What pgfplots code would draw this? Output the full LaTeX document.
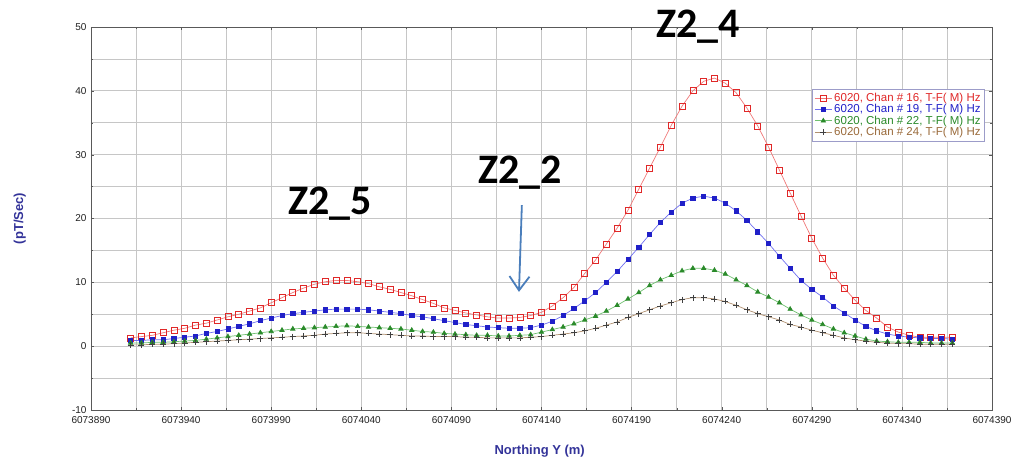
\documentclass[border=0pt]{standalone}
\usepackage{pgfplots}
\pgfplotsset{compat=1.18}
\usepackage{pgfplotstable}
\usepackage{fontspec}
\setmainfont{Liberation Sans}
\newfontfamily\calib{Carlito}
\usetikzlibrary{arrows.meta}

\definecolor{cRed}{HTML}{E02828}
\definecolor{lRed}{HTML}{F07878}
\definecolor{cBlue}{HTML}{2020C8}
\definecolor{lBlue}{HTML}{7070F0}
\definecolor{cGreen}{HTML}{2A8A2A}
\definecolor{lGreen}{HTML}{70C070}
\definecolor{cBrown}{HTML}{9A6A3A}
\definecolor{lBrown}{HTML}{B09070}
\definecolor{labBlue}{HTML}{333399}
\definecolor{arrBlue}{HTML}{4A7EBB}

% x = Northing - 6073890 (m); r/b/g/k = Chan 16/19/22/24 (pT/Sec)
\pgfplotstableread{
x   r    b    g    k
22  1.3  0.9  0.5  0.2
28  1.5  0.9  0.5  0.2
34  1.7  1.0  0.6  0.3
40  2.1  1.0  0.6  0.3
46  2.5  1.2  0.7  0.4
52  2.8  1.4  0.8  0.5
58  3.3  1.6  0.9  0.6
64  3.6  2.0  1.1  0.7
70  4.1  2.3  1.3  0.8
76  4.6  2.7  1.5  0.9
82  5.0  3.1  1.7  1.0
88  5.5  3.5  1.9  1.1
94  6.0  4.0  2.1  1.2
100 6.8  4.4  2.3  1.3
106 7.6  4.8  2.5  1.4
112 8.4  5.1  2.7  1.5
118 9.1  5.3  2.8  1.6
124 9.7  5.5  2.9  1.7
130 10.1 5.7  3.0  1.9
136 10.3 5.8  3.1  2.0
142 10.3 5.8  3.2  2.1
148 10.1 5.8  3.1  2.1
154 9.8  5.7  3.0  2.0
160 9.3  5.5  2.9  1.9
166 8.9  5.3  2.8  1.8
172 8.4  5.1  2.7  1.7
178 7.9  4.8  2.5  1.6
184 7.3  4.6  2.3  1.6
190 6.7  4.3  2.2  1.5
196 6.0  4.0  2.0  1.5
202 5.6  3.7  1.9  1.5
208 5.2  3.4  1.8  1.4
214 4.9  3.2  1.7  1.4
220 4.6  3.0  1.7  1.3
226 4.4  2.9  1.6  1.3
232 4.4  2.8  1.6  1.3
238 4.5  2.8  1.7  1.3
244 4.8  2.9  1.8  1.4
250 5.3  3.3  2.2  1.5
256 6.3  3.9  2.6  1.7
262 7.6  4.8  3.0  1.9
268 9.2  5.9  3.5  2.1
274 11.4 7.1  4.1  2.4
280 13.5 8.4  4.7  2.8
286 16.0 10.0 5.5  3.3
292 18.5 11.7 6.4  3.8
298 21.3 13.6 7.4  4.5
304 24.6 15.5 8.4  5.1
310 27.9 17.5 9.5  5.7
316 31.2 19.4 10.4 6.3
322 34.6 21.0 11.1 6.8
328 37.6 22.4 11.8 7.3
334 40.0 23.2 12.2 7.6
340 41.5 23.5 12.2 7.6
346 42.0 23.2 11.9 7.4
352 41.2 22.4 11.3 7.0
358 39.7 21.2 10.4 6.4
364 37.3 19.7 9.5  5.7
370 34.5 17.9 8.5  5.1
376 31.2 16.1 7.7  4.6
382 27.6 14.1 6.8  4.1
388 24.0 12.2 5.8  3.4
394 20.4 10.3 4.9  3.0
400 16.9 8.9  4.1  2.5
406 13.8 7.7  3.4  2.1
412 11.1 6.3  2.7  1.7
418 9.1  5.2  2.1  1.3
424 7.2  4.1  1.6  1.0
430 5.6  3.1  1.1  0.8
436 4.4  2.4  0.8  0.6
442 3.0  1.9  0.7  0.5
448 2.2  1.6  0.6  0.4
454 1.7  1.4  0.6  0.4
460 1.4  1.3  0.6  0.3
466 1.4  1.2  0.5  0.3
472 1.4  1.2  0.5  0.3
478 1.4  1.1  0.5  0.3
}\data

\begin{document}
\begin{tikzpicture}
\path[use as bounding box] (-91pt,-51pt) rectangle (922pt,410pt);
\begin{axis}[
  at={(0pt,0pt)}, anchor=south west,
  width=901pt, height=383pt, scale only axis,
  xmin=0, xmax=500, ymin=-10, ymax=50,
  xtick={0,50,100,150,200,250,300,350,400,450,500},
  xticklabels={6073890,6073940,6073990,6074040,6074090,6074140,6074190,6074240,6074290,6074340,6074390},
  ytick={-10,0,10,20,30,40,50},
  minor x tick num=1, minor y tick num=1,
  grid=both,
  major grid style={gray!45, line width=0.7pt},
  minor grid style={gray!45, line width=0.7pt},
  axis line style={gray!70!black},
  tick style={gray!70!black},
  major tick length=3pt, minor tick length=2pt,
  ticklabel style={font=\fontsize{10}{12}\selectfont, text=gray!25!black},
  yticklabel style={xshift=-1pt},
  xticklabel style={yshift=-3pt},
  /pgf/number format/assume math mode=true,
  clip=false,
  xlabel={\textbf{Northing Y (m)}},
  ylabel={\textbf{(pT/Sec)}},
  label style={font=\fontsize{13}{15}\selectfont, text=labBlue},
  xlabel style={at={(axis description cs:0.498,-0.107)}, anchor=center},
  ylabel style={at={(axis description cs:-0.079,0.5)}, anchor=center},
  legend style={at={(rel axis cs:0.992,0.838)}, anchor=north east,
    font=\fontsize{11.5}{12}\selectfont, draw=blue!30!gray!60, fill=white,
    row sep=-2.5pt, inner sep=2pt},
  legend cell align=left,
]
\addplot[lRed, line width=0.7pt, mark=square, mark size=3pt, mark options={cRed, line width=0.7pt}]
  table[x=x, y=r] {\data};
\addlegendentry{\textcolor{cRed}{6020, Chan \# 16, T-F( M) Hz}}
\addplot[lBlue, line width=0.7pt, mark=square*, mark size=2.1pt, mark options={cBlue}]
  table[x=x, y=b] {\data};
\addlegendentry{\textcolor{cBlue}{6020, Chan \# 19, T-F( M) Hz}}
\addplot[lGreen, line width=0.7pt, mark=triangle*, mark size=2.5pt, mark options={cGreen}]
  table[x=x, y=g] {\data};
\addlegendentry{\textcolor{cGreen}{6020, Chan \# 22, T-F( M) Hz}}
\addplot[lBrown, line width=0.7pt, mark=+, mark size=3pt, mark options={black!75, line width=0.7pt}]
  table[x=x, y=k] {\data};
\addlegendentry{\textcolor{cBrown}{6020, Chan \# 24, T-F( M) Hz}}

\node[font=\calib\bfseries\fontsize{42}{44}\selectfont] at (axis cs:132.6,22.4) {Z2\_5};
\node[font=\calib\bfseries\fontsize{42}{44}\selectfont] at (axis cs:238,27.2) {Z2\_2};
\node[font=\calib\bfseries\fontsize{42}{44}\selectfont] at (axis cs:336.8,50.0) {Z2\_4};
\draw[arrBlue, line width=1.8pt, -{Straight Barb[length=14pt,width=20pt]}]
  (axis cs:239.1,22.1) -- (axis cs:237.5,8.5);
\end{axis}
\end{tikzpicture}
\end{document}
